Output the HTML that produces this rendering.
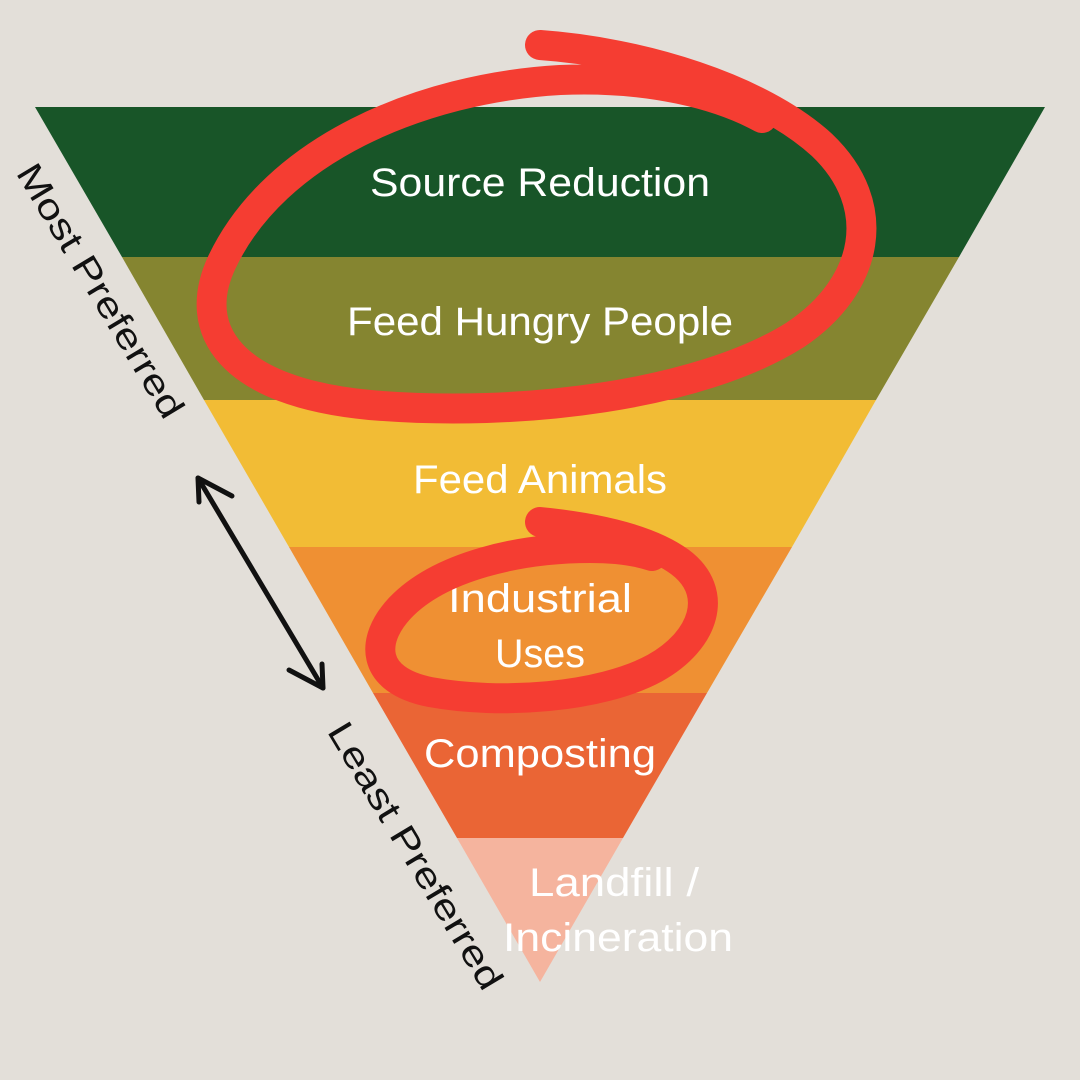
<!DOCTYPE html>
<html><head><meta charset="utf-8"><style>html,body{margin:0;padding:0;background:#E3DFD9;}svg{display:block}</style></head>
<body>
<svg width="1080" height="1080" viewBox="0 0 1080 1080" xmlns="http://www.w3.org/2000/svg">
<rect width="1080" height="1080" fill="#E3DFD9"/>
<polygon points="35,107 1045,107 959,257 122,257" fill="#185528"/>
<polygon points="122,257 959,257 876,400 204,400" fill="#858530"/>
<polygon points="204,400 876,400 792,547 289,547" fill="#F2BC35"/>
<polygon points="289,547 792,547 707,693 373,693" fill="#EF9033"/>
<polygon points="373,693 707,693 623,838 457,838" fill="#EA6535"/>
<polygon points="457,838 623,838 540,982" fill="#F5B49E"/>
<g font-family="Liberation Sans, sans-serif" font-size="40" fill="#fff" text-anchor="middle">
<text x="540" y="196" textLength="340" lengthAdjust="spacingAndGlyphs">Source Reduction</text>
<text x="540" y="335" textLength="386" lengthAdjust="spacingAndGlyphs">Feed Hungry People</text>
<text x="540" y="493" textLength="254" lengthAdjust="spacingAndGlyphs">Feed Animals</text>
<text x="540" y="612" textLength="184" lengthAdjust="spacingAndGlyphs">Industrial</text>
<text x="540" y="667" textLength="90" lengthAdjust="spacingAndGlyphs">Uses</text>
<text x="540" y="767" textLength="232" lengthAdjust="spacingAndGlyphs">Composting</text>
<text x="614" y="896" textLength="170" lengthAdjust="spacingAndGlyphs">Landfill /</text>
<text x="618" y="951" textLength="230" lengthAdjust="spacingAndGlyphs">Incineration</text>
</g>
<g font-family="Liberation Sans, sans-serif" font-size="36" fill="#111" text-anchor="middle">
<text transform="translate(90,297) rotate(59)" textLength="290" lengthAdjust="spacingAndGlyphs">Most Preferred</text>
<text transform="translate(405,862) rotate(59)" textLength="305" lengthAdjust="spacingAndGlyphs">Least Preferred</text>
</g>
<g stroke="#111" stroke-width="5" fill="none" stroke-linecap="round" stroke-linejoin="round">
<line x1="198" y1="478" x2="323" y2="688"/>
<polyline points="199,502 198,478 232,496"/>
<polyline points="322,664 323,688 289,670"/>
</g>
<g stroke="#F53D32" stroke-width="30" fill="none" stroke-linecap="round" stroke-linejoin="round">
<path d="M540,45 C640,52 760,88 822,145 C885,205 870,285 795,335 C700,395 520,418 370,405 C230,392 190,330 222,262 C275,150 420,88 560,80 C650,76 720,95 762,118"/>
<path d="M540,522 C600,528 650,540 680,562 C720,592 705,640 655,668 C600,698 500,705 430,692 C370,680 370,640 400,608 C440,566 520,548 590,548 C620,548 640,552 652,556"/>
</g>
</svg>
</body></html>
